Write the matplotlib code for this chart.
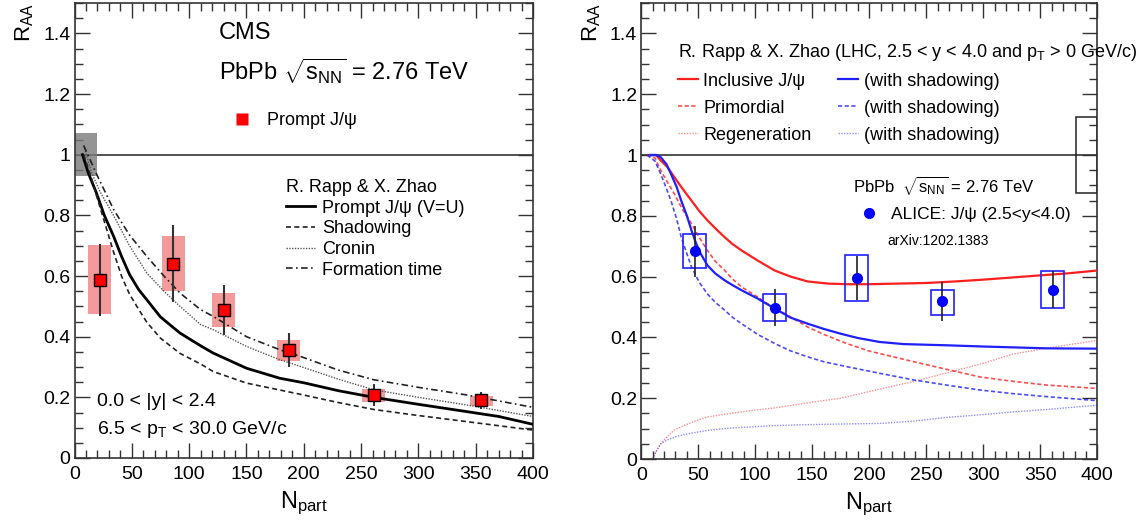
import matplotlib.pyplot as plt
from matplotlib.patches import Rectangle
from matplotlib.lines import Line2D
from matplotlib.ticker import MultipleLocator

plt.rcParams['font.family'] = 'Liberation Sans'
plt.rcParams['mathtext.fontset'] = 'custom'
plt.rcParams['mathtext.rm'] = 'Liberation Sans'
plt.rcParams['mathtext.it'] = 'Liberation Sans:italic'
plt.rcParams['mathtext.bf'] = 'Liberation Sans:bold'

# ---- left panel: CMS prompt J/psi ----
cms_npart = [22, 86, 130, 187, 261, 355]
cms_raa = [0.588, 0.641, 0.488, 0.357, 0.208, 0.19]
cms_stat = [0.119, 0.127, 0.083, 0.056, 0.035, 0.028]
cms_syst_lo = [0.476, 0.55, 0.432, 0.32, 0.186, 0.17]
cms_syst_hi = [0.702, 0.732, 0.544, 0.39, 0.227, 0.205]

# Rapp & Zhao curves (left)
rz_prompt_n = [7, 12, 19, 26, 34, 41, 48, 56, 63, 75, 92, 110, 121, 150, 179, 200, 230, 261, 300, 342, 370, 400]
rz_prompt_r = [1.0, 0.94, 0.875, 0.80, 0.732, 0.665, 0.605, 0.555, 0.522, 0.465, 0.412, 0.37, 0.346, 0.296,
               0.263, 0.248, 0.222, 0.2, 0.177, 0.153, 0.137, 0.111]
rz_shadow_n = [8, 15, 20, 26, 34, 41, 48, 56, 63, 75, 92, 110, 121, 150, 197, 230, 261, 300, 342, 400]
rz_shadow_r = [1.0, 0.92, 0.855, 0.78, 0.68, 0.60, 0.54, 0.49, 0.448, 0.395, 0.345, 0.31, 0.285, 0.247,
               0.21, 0.183, 0.16, 0.14, 0.12, 0.092]
rz_cronin_n = [8, 15, 22, 34, 48, 63, 78, 92, 110, 121, 150, 179, 197, 230, 261, 300, 342, 400]
rz_cronin_r = [1.03, 0.94, 0.88, 0.80, 0.70, 0.61, 0.55, 0.50, 0.44, 0.423, 0.368, 0.324, 0.302, 0.26,
               0.225, 0.2, 0.175, 0.137]
rz_form_n = [8, 20, 34, 48, 63, 78, 92, 110, 121, 150, 179, 197, 230, 261, 300, 342, 400]
rz_form_r = [1.03, 0.93, 0.82, 0.735, 0.665, 0.60, 0.544, 0.489, 0.467, 0.40, 0.357, 0.335, 0.29, 0.258,
             0.233, 0.208, 0.167]

# ---- right panel: ALICE inclusive J/psi ----
alice_npart = [47, 117, 189, 264, 361]
alice_raa = [0.683, 0.498, 0.596, 0.519, 0.557]
alice_stat = [0.085, 0.062, 0.073, 0.064, 0.06]
alice_syst_lo = [0.627, 0.454, 0.52, 0.475, 0.497]
alice_syst_hi = [0.741, 0.542, 0.672, 0.557, 0.617]

incl_n = [8, 13, 17, 23, 29, 36, 44, 51, 58, 66, 73, 80, 88, 102, 117, 131, 146, 164, 181, 200, 225, 250,
          275, 300, 325, 350, 375, 400]
incl_r = [1.0, 1.0, 0.982, 0.96, 0.927, 0.89, 0.85, 0.815, 0.785, 0.755, 0.73, 0.707, 0.686, 0.653, 0.62,
          0.60, 0.584, 0.577, 0.575, 0.575, 0.577, 0.579, 0.584, 0.59, 0.597, 0.604, 0.611, 0.62]
incl_sh_n = [8, 13, 17, 22, 26, 31, 35, 40, 44, 48, 52, 58, 65, 73, 80, 88, 102, 117, 131, 146, 160, 175,
             190, 209, 230, 268, 300, 356, 400]
incl_sh_r = [1.0, 1.0, 0.993, 0.97, 0.938, 0.895, 0.85, 0.80, 0.752, 0.71, 0.676, 0.637, 0.61, 0.588,
             0.572, 0.555, 0.528, 0.495, 0.465, 0.445, 0.428, 0.412, 0.398, 0.385, 0.378, 0.374, 0.37,
             0.364, 0.363]
prim_n = [5, 12, 17, 23, 29, 36, 44, 51, 58, 65, 73, 80, 88, 102, 117, 126, 146, 160, 180, 200, 239, 270,
          297, 325, 356, 400]
prim_r = [1.0, 0.99, 0.95, 0.91, 0.872, 0.822, 0.774, 0.728, 0.686, 0.65, 0.621, 0.592, 0.566, 0.533,
          0.495, 0.478, 0.434, 0.41, 0.38, 0.355, 0.32, 0.293, 0.27, 0.256, 0.243, 0.232]
prim_sh_n = [5, 12, 17, 22, 26, 31, 35, 40, 44, 51, 58, 65, 73, 80, 88, 102, 117, 130, 146, 160, 180, 209,
             239, 268, 297, 326, 356, 400]
prim_sh_r = [1.0, 0.98, 0.938, 0.89, 0.85, 0.79, 0.73, 0.675, 0.632, 0.58, 0.543, 0.515, 0.49, 0.466,
             0.445, 0.41, 0.38, 0.357, 0.336, 0.32, 0.304, 0.282, 0.26, 0.243, 0.227, 0.215, 0.205, 0.192]
regen_n = [10, 13, 17, 23, 29, 36, 44, 51, 58, 73, 88, 102, 117, 146, 175, 200, 239, 277, 300, 326, 356, 400]
regen_r = [0.0, 0.025, 0.05, 0.075, 0.095, 0.108, 0.12, 0.13, 0.138, 0.147, 0.155, 0.162, 0.168, 0.185,
           0.2, 0.222, 0.255, 0.292, 0.315, 0.345, 0.365, 0.39]
regen_sh_n = [10, 13, 17, 23, 29, 36, 44, 58, 73, 88, 117, 146, 175, 209, 240, 268, 300, 326, 356, 400]
regen_sh_r = [0.0, 0.025, 0.05, 0.063, 0.072, 0.079, 0.085, 0.094, 0.1, 0.104, 0.11, 0.113, 0.115, 0.117,
              0.125, 0.137, 0.146, 0.155, 0.163, 0.177]

RED = '#ff1f1f'
BLUE = '#1f1fff'
BOX_HW = 10

fig = plt.figure(figsize=(11.42, 5.29), dpi=100)
axL = fig.add_axes([74.5 / 1142, 1 - 458 / 529, 458.5 / 1142, 455 / 529])
axR = fig.add_axes([641.3 / 1142, 1 - 459 / 529, 456 / 1142, 456 / 529])

for ax in (axL, axR):
    ax.set_xlim(0, 400)
    ax.set_ylim(0, 1.5)
    ax.xaxis.set_major_locator(MultipleLocator(50))
    ax.xaxis.set_minor_locator(MultipleLocator(10))
    ax.yaxis.set_minor_locator(MultipleLocator(0.05))
    ax.set_yticks([0, 0.2, 0.4, 0.6, 0.8, 1.0, 1.2, 1.4])
    ax.set_yticklabels(['0', '0.2', '0.4', '0.6', '0.8', '1', '1.2', '1.4'])
    ax.tick_params(which='both', direction='in', top=True, right=True, labelsize=14, color='#333333')
    ax.tick_params(axis='y', pad=3)
    ax.tick_params(axis='x', pad=6)
    ax.tick_params(which='major', length=11, width=1)
    ax.tick_params(which='minor', length=6, width=1)
    for s in ax.spines.values():
        s.set_linewidth(1.2)
        s.set_color('#333333')
    ax.axhline(1.0, color='#222222', lw=1.1, zorder=1)
    ax.set_xlabel(r'$\mathregular{N_{part}}$', fontsize=17)
    ax.xaxis.set_label_coords(0.5, -0.07)
    ax.set_ylabel(r'$\mathregular{R_{AA}}$', fontsize=16, loc='top')
    ax.yaxis.set_label_coords(-0.085, 1.0)

# ---------- left ----------
axL.add_patch(Rectangle((0, 0.93), 20, 0.14, color='#7a7a7a', alpha=0.8, lw=0, zorder=2))
for n, lo, hi in zip(cms_npart, cms_syst_lo, cms_syst_hi):
    axL.add_patch(Rectangle((n - BOX_HW, lo), 2 * BOX_HW, hi - lo, color='#f59a9a', lw=0, zorder=2))

l_prompt, = axL.plot(rz_prompt_n, rz_prompt_r, color='black', lw=2.0, zorder=3)
l_shadow, = axL.plot(rz_shadow_n, rz_shadow_r, color='#222222', lw=1.2, ls=(0, (3, 2)), zorder=3)
l_cronin, = axL.plot(rz_cronin_n, rz_cronin_r, color='#555555', lw=1.0, ls=(0, (1, 1)), zorder=3)
l_form, = axL.plot(rz_form_n, rz_form_r, color='#222222', lw=1.2, ls=(0, (4, 2, 1, 2)), zorder=3)

axL.errorbar(cms_npart, cms_raa, yerr=cms_stat, fmt='none', ecolor='#333333', elinewidth=1.5, zorder=4)
cms_pts, = axL.plot(cms_npart, cms_raa, ls='none', marker='s', ms=8, mfc='#ff0000', mec='black',
                    mew=1.0, zorder=5)

axL.text(0.315, 0.934, 'CMS', transform=axL.transAxes, fontsize=17, va='center', ha='left')
axL.text(0.315, 0.85, r'PbPb $\sqrt{\mathregular{s_{NN}}}$ = 2.76 TeV', transform=axL.transAxes,
         fontsize=17, va='center', ha='left')
axL.text(0.05, 0.125, '0.0 < |y| < 2.4', transform=axL.transAxes, fontsize=14, va='center', ha='left')
axL.text(0.05, 0.063, r'6.5 < $\mathregular{p_T}$ < 30.0 GeV/c', transform=axL.transAxes, fontsize=14,
         va='center', ha='left')

sq = Line2D([], [], ls='none', marker='s', ms=8, mfc='#ff0000', mec='none')
legA = axL.legend([sq], ['Prompt J/ψ'], loc='center left', bbox_to_anchor=(0.345, 0.741), frameon=False,
                  fontsize=13, borderpad=0, borderaxespad=0, handlelength=1.0, handletextpad=0.9)
axL.add_artist(legA)
axL.legend([l_prompt, l_shadow, l_cronin, l_form],
           ['Prompt J/ψ (V=U)', 'Shadowing', 'Cronin', 'Formation time'],
           title='R. Rapp & X. Zhao', title_fontsize=13, alignment='left',
           loc='upper left', bbox_to_anchor=(0.462, 0.613), frameon=False, fontsize=13,
           borderpad=0, borderaxespad=0, handlelength=1.6, handletextpad=0.4, labelspacing=0.2)

# ---------- right ----------
axR.add_patch(Rectangle((381, 0.875), 19, 0.25, fill=False, ec='#222222', lw=1.1, zorder=2))
h_incl, = axR.plot(incl_n, incl_r, color=RED, lw=1.6, zorder=3)
h_prim, = axR.plot(prim_n, prim_r, color=RED, lw=1.2, ls=(0, (2.5, 1.5)), alpha=0.8, zorder=3)
h_regen, = axR.plot(regen_n, regen_r, color=RED, lw=1.0, ls=(0, (1, 1)), alpha=0.5, zorder=3)
h_incl_sh, = axR.plot(incl_sh_n, incl_sh_r, color=BLUE, lw=1.6, zorder=3)
h_prim_sh, = axR.plot(prim_sh_n, prim_sh_r, color=BLUE, lw=1.2, ls=(0, (2.5, 1.5)), alpha=0.8, zorder=3)
h_regen_sh, = axR.plot(regen_sh_n, regen_sh_r, color=BLUE, lw=1.0, ls=(0, (1, 1)), alpha=0.5, zorder=3)

for n, lo, hi in zip(alice_npart, alice_syst_lo, alice_syst_hi):
    axR.add_patch(Rectangle((n - BOX_HW, lo), 2 * BOX_HW, hi - lo, fill=False, ec=BLUE, lw=1.2, zorder=4))
axR.errorbar(alice_npart, alice_raa, yerr=alice_stat, fmt='none', ecolor='#222222', elinewidth=1.2, zorder=4)
alice_pts, = axR.plot(alice_npart, alice_raa, ls='none', marker='o', ms=7, mfc='#0000ff', mec='#0000ff',
                      zorder=5)

legR = axR.legend([h_incl, h_prim, h_regen, h_incl_sh, h_prim_sh, h_regen_sh],
                  ['Inclusive J/ψ', 'Primordial', 'Regeneration',
                   '(with shadowing)', '(with shadowing)', '(with shadowing)'],
                  ncols=2, title=r'R. Rapp & X. Zhao (LHC, 2.5 < y < 4.0 and $\mathregular{p_T}$ > 0 GeV/c)',
                  title_fontsize=13, alignment='left', loc='upper left', bbox_to_anchor=(0.08, 0.915),
                  frameon=False, fontsize=13, borderpad=0, borderaxespad=0, handlelength=1.1,
                  handletextpad=0.3, labelspacing=0.55, columnspacing=1.5)
axR.add_artist(legR)
axR.text(0.464, 0.6, r'PbPb  $\sqrt{\mathregular{s_{NN}}}$ = 2.76 TeV', transform=axR.transAxes,
         fontsize=12, va='center', ha='left')
axR.legend([alice_pts], ['ALICE: J/ψ (2.5<y<4.0)'], loc='center left', bbox_to_anchor=(0.48, 0.537),
           frameon=False, fontsize=12.5, borderpad=0, borderaxespad=0, handlelength=1.0, handletextpad=0.75)
axR.text(0.54, 0.477, 'arXiv:1202.1383', transform=axR.transAxes, fontsize=10, va='center', ha='left')

fig.savefig('out.png', dpi=100)
